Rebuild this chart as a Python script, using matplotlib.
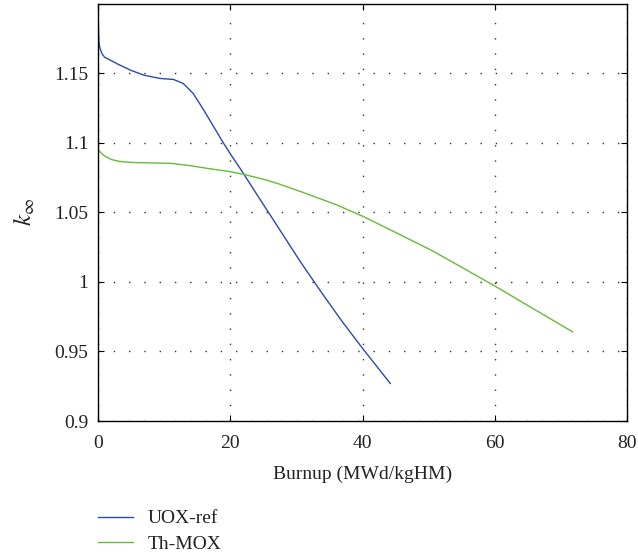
import matplotlib
matplotlib.use("Agg")
import matplotlib.pyplot as plt
import numpy as np

# burnup (MWd/kgHM) vs k-infinity
uox_burnup = [0, 0.05, 0.15, 0.3, 0.6, 1, 2, 3, 5, 7, 9.4, 11.4, 12.9, 14.4,
              16.0, 17.5, 19.0, 20.3, 21.5, 24, 27.3, 30.6, 34, 37, 40.2, 44.2]
uox_k = [1.2, 1.185, 1.172, 1.168, 1.164, 1.1615, 1.159, 1.1565, 1.152, 1.1485,
         1.1462, 1.1455, 1.1426, 1.1354, 1.1234, 1.1115, 1.0995, 1.0899, 1.0815,
         1.063, 1.0388, 1.0145, 0.991, 0.971, 0.951, 0.927]

thmox_burnup = [0, 0.5, 1, 2, 3, 4, 6, 8, 11, 14, 16.5, 20, 22, 25, 27.1, 30.6,
                32.1, 36, 40.2, 45, 50.3, 55, 60.2, 65, 71.8]
thmox_k = [1.095, 1.0925, 1.0905, 1.088, 1.0868, 1.0862, 1.0857, 1.0855, 1.0852,
           1.0835, 1.0816, 1.0792, 1.0773, 1.0738, 1.0708, 1.065, 1.0624, 1.0555,
           1.0468, 1.0355, 1.023, 1.0105, 0.9965, 0.983, 0.964]

x_ticks = [0, 20, 40, 60, 80]
y_ticks = [0.9, 0.95, 1.0, 1.05, 1.1, 1.15]
y_tick_labels = ["0.9", "0.95", "1", "1.05", "1.1", "1.15"]

plt.rcParams['font.family'] = ['Liberation Serif', 'DejaVu Serif']
plt.rcParams['mathtext.fontset'] = 'stix'

fig = plt.figure(figsize=(6.38, 5.56), dpi=100)
ax = fig.add_axes([0.1536, 0.2428, 0.8292, 0.7507])

ax.plot(uox_burnup, uox_k, color='#2a4ab0', lw=1.0, label='UOX-ref')
ax.plot(thmox_burnup, thmox_k, color='#66bb3a', lw=1.0, label='Th-MOX')

ax.set_xlim(0, 80)
ax.set_ylim(0.9, 1.2)
ax.set_xticks(x_ticks)
ax.set_yticks(y_ticks)
ax.set_yticklabels(y_tick_labels)
ax.tick_params(direction='in', length=4, width=0.8, labelsize=14,
               top=True, right=True, pad=7, labelcolor='#222222')
ax.tick_params(axis='x', pad=10)
ax.grid(True, color='#333333', linestyle=(0, (1, 10)), linewidth=1.0)
for s in ax.spines.values():
    s.set_linewidth(1.0)

ax.set_xlabel('Burnup (MWd/kgHM)', fontsize=14, labelpad=10, color='#222222')
ax.set_ylabel(r'$k_\infty$', fontsize=18, labelpad=12, color='#222222')

fig.legend(loc='upper left', bbox_to_anchor=(0.142, 0.097), frameon=False,
           fontsize=14, handlelength=1.8, handletextpad=0.72, labelspacing=0.4,
           borderaxespad=0, labelcolor='#222222')

fig.savefig('out.png', dpi=100)
